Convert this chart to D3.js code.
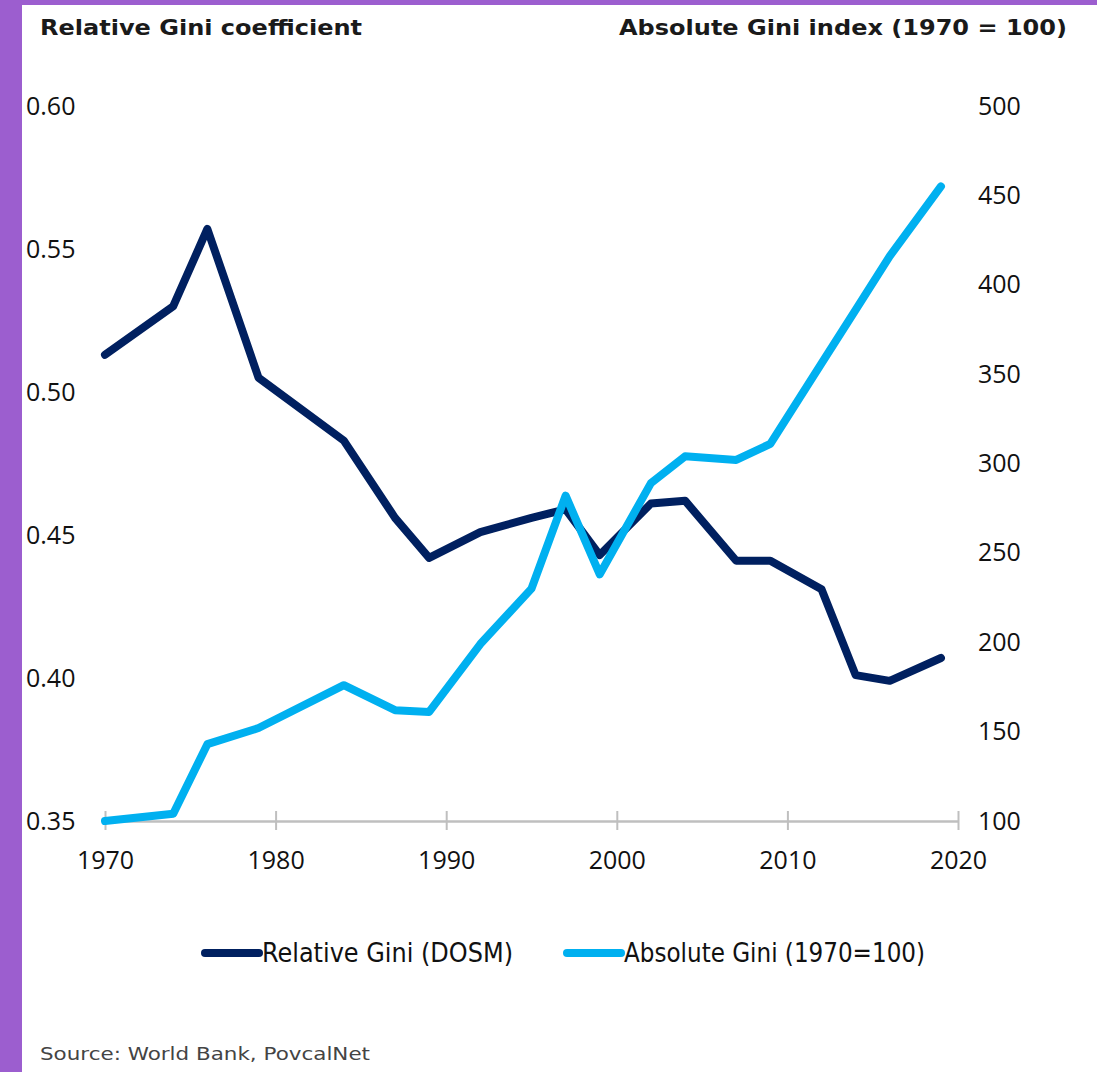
<!DOCTYPE html>
<html>
<head>
<meta charset="utf-8">
<script src="https://cdn.jsdelivr.net/npm/d3@7"></script>
<style>
  html, body { margin: 0; padding: 0; background: #fff; }
  svg { display: block; }
</style>
</head>
<body>
<div id="chart"></div>
<script>
// Data
var years = [1970, 1974, 1976, 1979, 1984, 1987, 1989, 1992, 1995, 1997, 1999, 2002, 2004, 2007, 2009, 2012, 2014, 2016, 2019];
var relativeGini = [0.513, 0.530, 0.557, 0.505, 0.483, 0.456, 0.442, 0.451, 0.456, 0.459, 0.443, 0.461, 0.462, 0.441, 0.441, 0.431, 0.401, 0.399, 0.407];
var absoluteGini = [100, 104, 143, 152, 176, 162, 161, 199, 230, 282, 238, 289, 304, 302, 311, 356, 386, 416, 455];
var xTicks = [1970, 1980, 1990, 2000, 2010, 2020];
var leftTicks = [0.35, 0.40, 0.45, 0.50, 0.55, 0.60];
var rightTicks = [100, 150, 200, 250, 300, 350, 400, 450, 500];
var seriesNames = ["Relative Gini (DOSM)", "Absolute Gini (1970=100)"];

var W = 1097, H = 1072;
var plot = { left: 105, right: 958, top: 106, bottom: 821 };
var darkBlue = "#002060", lightBlue = "#00b0f0";
var tickFont = "'Open Sans', 'Noto Sans', sans-serif";
var titleFont = "'DejaVu Sans', 'Open Sans', sans-serif";

var svg = d3.select("#chart").append("svg")
    .attr("width", W)
    .attr("height", H);

// purple frame (left and top edges)
svg.append("rect").attr("x", 0).attr("y", 0).attr("width", W).attr("height", 5).attr("fill", "#9c5ecf");
svg.append("rect").attr("x", 0).attr("y", 0).attr("width", 22).attr("height", H).attr("fill", "#9c5ecf");

var x = d3.scaleLinear().domain([1970, 2020]).range([plot.left, plot.right]);
var yL = d3.scaleLinear().domain([0.35, 0.60]).range([plot.bottom, plot.top]);
var yR = d3.scaleLinear().domain([100, 500]).range([plot.bottom, plot.top]);

// titles
svg.append("text")
    .attr("x", 40).attr("y", 35)
    .attr("textLength", 322)
    .attr("lengthAdjust", "spacingAndGlyphs")
    .style("font-family", titleFont)
    .style("font-weight", "bold")
    .style("font-size", "20.5px")
    .attr("fill", "#1a1a1a")
    .text("Relative Gini coefficient");

svg.append("text")
    .attr("x", 619).attr("y", 35)
    .attr("textLength", 448)
    .attr("lengthAdjust", "spacingAndGlyphs")
    .style("font-family", titleFont)
    .style("font-weight", "bold")
    .style("font-size", "20.5px")
    .attr("fill", "#1a1a1a")
    .text("Absolute Gini index (1970 = 100)");

// x axis
var xAxis = svg.append("g")
    .attr("transform", "translate(0," + plot.bottom + ")")
    .call(d3.axisBottom(x).tickValues(xTicks).tickFormat(d3.format("d")).tickSize(9).tickSizeOuter(0));

xAxis.select(".domain").attr("stroke", "#bfbfbf").attr("stroke-width", 2.5);
xAxis.selectAll(".tick line")
    .attr("stroke", "#bfbfbf")
    .attr("stroke-width", 2)
    .attr("y1", -10);
xAxis.selectAll(".tick text")
    .attr("y", 39)
    .attr("dy", "0.35em")
    .attr("fill", "#111")
    .style("font-family", tickFont)
    .style("font-size", "25px");

// left axis labels (no line)
var leftAxis = svg.append("g")
    .attr("transform", "translate(26,0)")
    .call(d3.axisRight(yL).tickValues(leftTicks).tickFormat(d3.format(".2f")).tickSize(0));
leftAxis.select(".domain").remove();
leftAxis.selectAll(".tick text")
    .attr("x", 0)
    .attr("fill", "#111")
    .style("font-family", tickFont)
    .style("font-size", "25px");

// right axis labels
var rightAxis = svg.append("g")
    .attr("transform", "translate(978,0)")
    .call(d3.axisRight(yR).tickValues(rightTicks).tickSize(0));
rightAxis.select(".domain").remove();
rightAxis.selectAll(".tick text")
    .attr("x", 0)
    .attr("fill", "#111")
    .style("font-family", tickFont)
    .style("font-size", "25px");

// lines
var relLine = d3.line()
    .x(function (d, i) { return x(years[i]); })
    .y(function (d) { return yL(d); });

var absLine = d3.line()
    .x(function (d, i) { return x(years[i]); })
    .y(function (d) { return yR(d); });

svg.append("path")
    .datum(relativeGini)
    .attr("d", relLine)
    .attr("fill", "none")
    .attr("stroke", darkBlue)
    .attr("stroke-width", 8)
    .attr("stroke-linejoin", "round")
    .attr("stroke-linecap", "round");

svg.append("path")
    .datum(absoluteGini)
    .attr("d", absLine)
    .attr("fill", "none")
    .attr("stroke", lightBlue)
    .attr("stroke-width", 8)
    .attr("stroke-linejoin", "round")
    .attr("stroke-linecap", "round");

// legend
var legendItems = [
    { name: seriesNames[0], color: darkBlue, x: 205, w: 251 },
    { name: seriesNames[1], color: lightBlue, x: 567, w: 301 }
];

var legend = svg.append("g").attr("transform", "translate(0,953)");
legendItems.forEach(function (d) {
    legend.append("line")
        .attr("x1", d.x).attr("x2", d.x + 54)
        .attr("y1", 0).attr("y2", 0)
        .attr("stroke", d.color)
        .attr("stroke-width", 8)
        .attr("stroke-linecap", "round");
    legend.append("text")
        .attr("x", d.x + 57)
        .attr("y", 0)
        .attr("dy", "0.35em")
        .attr("textLength", d.w)
        .attr("lengthAdjust", "spacingAndGlyphs")
        .attr("fill", "#111")
        .style("font-family", "'Liberation Sans Narrow', 'DejaVu Sans Condensed', sans-serif")
        .style("font-size", "26px")
        .text(d.name);
});

// source note
svg.append("text")
    .attr("x", 40).attr("y", 1060)
    .attr("textLength", 330)
    .attr("lengthAdjust", "spacingAndGlyphs")
    .attr("fill", "#444")
    .style("font-family", titleFont)
    .style("font-size", "18.5px")
    .text("Source: World Bank, PovcalNet");
</script>
</body>
</html>
